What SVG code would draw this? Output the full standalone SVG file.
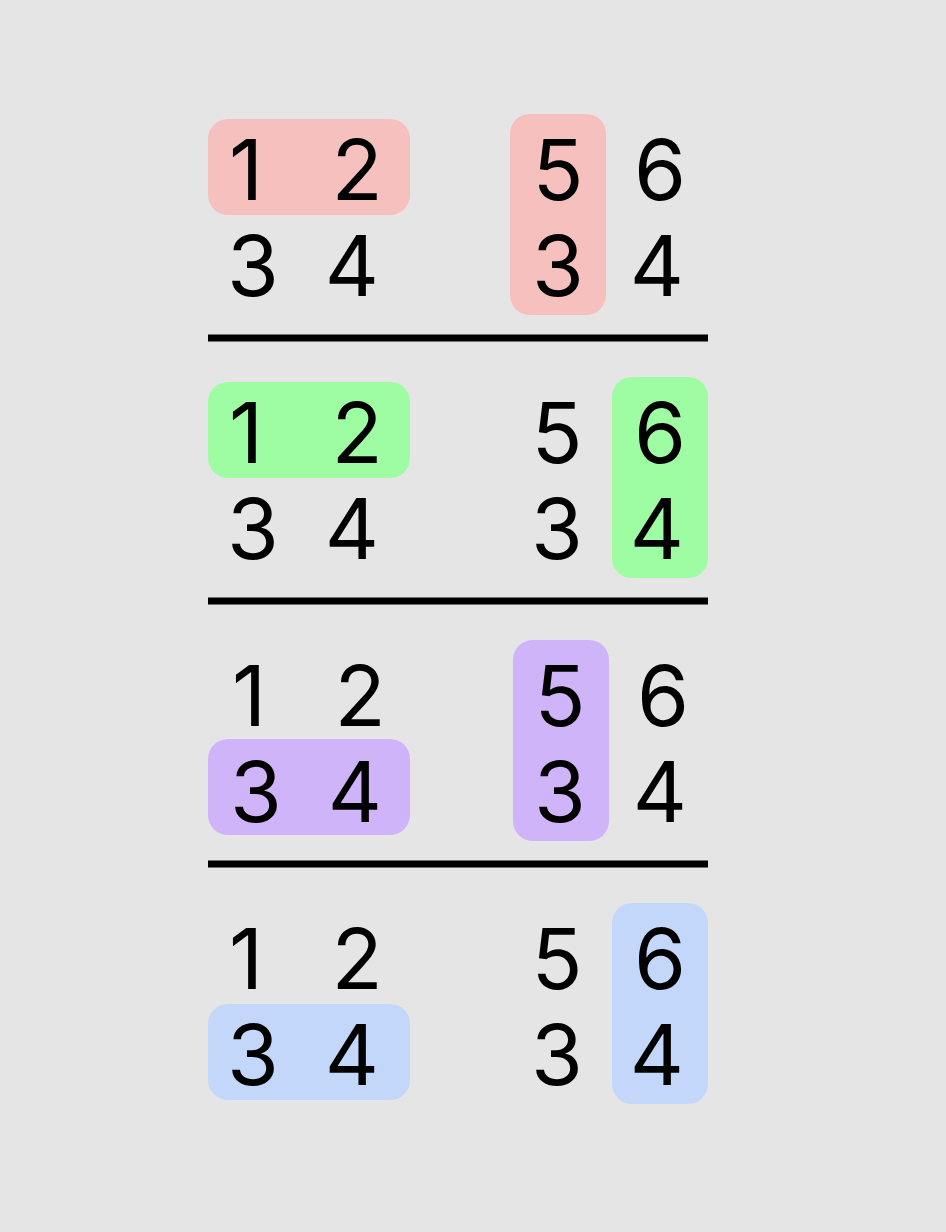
<svg xmlns="http://www.w3.org/2000/svg" width="946" height="1232" viewBox="0 0 946 1232">
<style>
.t{font-family:Inter,"Liberation Sans",sans-serif;font-size:84px;fill:#000;text-anchor:middle}
.sep{stroke:#000;stroke-width:7}
.red{fill:#f5c0be}
.green{fill:#9efca3}
.purple{fill:#cfb4f9}
.blue{fill:#c3d7fa}
</style>
<rect width="946" height="1232" fill="#e5e5e5"/>
<g id="connectors">
<line class="sep" x1="208" y1="338" x2="708" y2="338"/>
<line class="sep" x1="208" y1="601" x2="708" y2="601"/>
<line class="sep" x1="208" y1="864" x2="708" y2="864"/>
</g>
<g id="s1-left">
<rect class="red" x="208" y="119" width="202" height="96" rx="20"/>
<text class="t" x="246" y="200">1</text><text class="t" x="357" y="200">2</text>
<text class="t" x="253" y="296">3</text><text class="t" x="352" y="296">4</text>
</g>
<g id="s1-right">
<rect class="red" x="510" y="114" width="96" height="201" rx="20"/>
<text class="t" x="558" y="200">5</text><text class="t" x="660" y="200">6</text>
<text class="t" x="558" y="296">3</text><text class="t" x="657" y="296">4</text>
</g>
<g id="s2-left">
<rect class="green" x="208" y="382" width="202" height="96" rx="20"/>
<text class="t" x="246" y="463">1</text><text class="t" x="357" y="463">2</text>
<text class="t" x="253" y="559">3</text><text class="t" x="352" y="559">4</text>
</g>
<g id="s2-right">
<rect class="green" x="612" y="377" width="96" height="201" rx="20"/>
<text class="t" x="557" y="463">5</text><text class="t" x="660" y="463">6</text>
<text class="t" x="557" y="559">3</text><text class="t" x="657" y="559">4</text>
</g>
<g id="s3-left">
<rect class="purple" x="208" y="739" width="202" height="96" rx="20"/>
<text class="t" x="249" y="726">1</text><text class="t" x="360" y="726">2</text>
<text class="t" x="256" y="822">3</text><text class="t" x="355" y="822">4</text>
</g>
<g id="s3-right">
<rect class="purple" x="513" y="640" width="96" height="201" rx="20"/>
<text class="t" x="560" y="726">5</text><text class="t" x="663" y="726">6</text>
<text class="t" x="560" y="822">3</text><text class="t" x="660" y="822">4</text>
</g>
<g id="s4-left">
<rect class="blue" x="208" y="1004" width="202" height="96" rx="20"/>
<text class="t" x="246" y="989">1</text><text class="t" x="357" y="989">2</text>
<text class="t" x="253" y="1085">3</text><text class="t" x="352" y="1085">4</text>
</g>
<g id="s4-right">
<rect class="blue" x="612" y="903" width="96" height="201" rx="20"/>
<text class="t" x="557" y="989">5</text><text class="t" x="660" y="989">6</text>
<text class="t" x="557" y="1085">3</text><text class="t" x="657" y="1085">4</text>
</g>
</svg>
